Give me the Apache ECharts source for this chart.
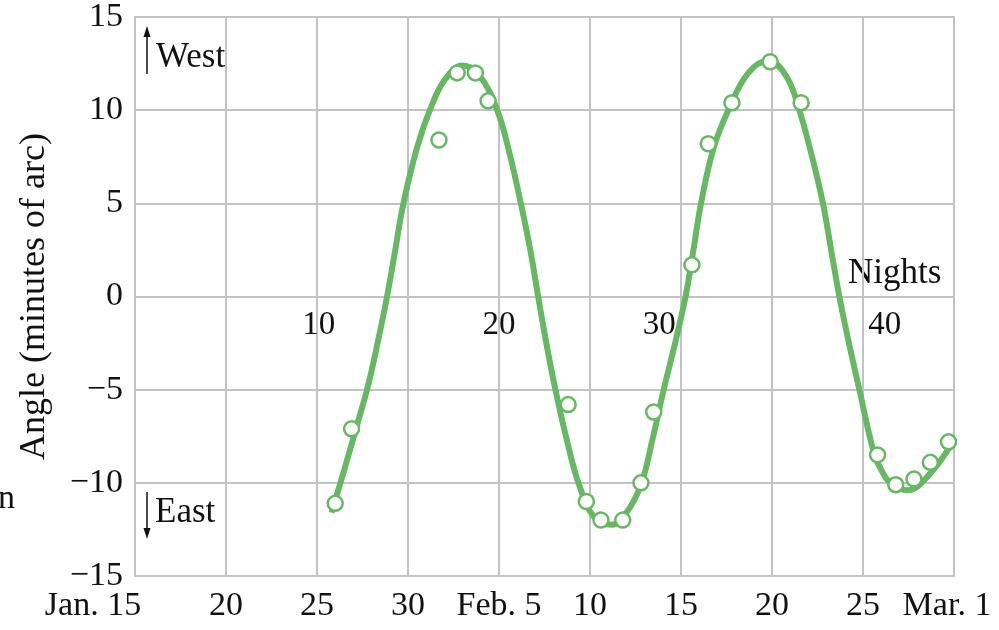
<!DOCTYPE html>
<html>
<head>
<meta charset="utf-8">
<script src="https://cdn.jsdelivr.net/npm/echarts@6/dist/echarts.min.js"></script>
<style>
  html, body { margin: 0; padding: 0; background: #fff; }
  #main { width: 999px; height: 630px; }
</style>
</head>
<body>
<div id="main"></div>
<script>
// days since Jan. 15 on the x axis
var dateLabels = ['Jan. 15', '20', '25', '30', 'Feb. 5', '10', '15', '20', '25', 'Mar. 1']

// observed angles (minutes of arc)
var obsDays = [11.0, 11.9, 16.7, 17.7, 18.7, 19.4, 23.8, 24.8, 25.6, 26.8, 27.8,
  28.5, 30.6, 31.5, 32.8, 34.9, 36.6, 40.8, 41.8, 42.8, 43.7, 44.7]
var obsAngles = [-11.1, -7.1, 8.4, 12.0, 12.0, 10.5, -5.8, -11.0, -12.0, -12.0, -10.0,
  -6.2, 1.7, 8.2, 10.4, 12.6, 10.4, -8.5, -10.1, -9.8, -8.9, -7.8]

// fitted curve
var fitDays = [10.8, 11.5, 12.2, 12.8, 13.35, 13.85, 14.3, 14.75, 15.5, 16.2, 17.0, 18.0,
  18.9, 19.9, 20.6, 21.2, 21.7, 22.15, 22.6, 23.1, 23.8, 24.4, 25.2, 26.2,
  27.0, 27.8, 28.45, 29.05, 29.7, 30.25, 30.7, 31.1, 31.8, 32.6, 33.7, 34.8,
  35.8, 36.5, 37.2, 37.8, 38.25, 38.7, 39.25, 39.8, 40.6, 41.0, 41.5, 42.45, 43.6, 44.95]
var fitAngles = [-11.6, -9.3, -6.9, -4.8, -2.4, 0, 2.5, 5.0, 8.0, 10.0, 11.6, 12.4,
  11.9, 10.0, 7.6, 5.0, 2.6, 0, -2.5, -5.0, -8.0, -10.1, -11.8, -12.25,
  -11.6, -10.1, -7.6, -5.0, -2.4, 0, 2.6, 5.0, 8.0, 10.0, 12.0, 12.65,
  11.8, 10.0, 7.5, 5.0, 2.5, 0, -2.6, -5.0, -8.4, -9.3, -10.0, -10.4, -9.6, -7.8]

// night count labels along the zero line
var nightTicks = ['10', '20', '30', '40']
var nightDays = [10.1, 20.0, 28.8, 41.2]

var green = '#66b862'
var gridGray = '#c3c2c7'
var serif = 'Liberation Serif'

var chart = echarts.init(document.getElementById('main'))

var option = {
  backgroundColor: '#fff',
  animation: false,
  textStyle: { fontFamily: serif },
  grid: {
    left: 135, right: 45, top: 15, bottom: 54,
    show: true, borderColor: gridGray, borderWidth: 2
  },
  xAxis: {
    type: 'value',
    min: 0, max: 45, interval: 5,
    axisLine: { show: false },
    axisTick: { show: false },
    splitLine: { lineStyle: { color: gridGray, width: 2 } },
    axisLabel: {
      margin: 13,
      color: '#111',
      fontFamily: serif,
      fontSize: 34,
      formatter: function (v) {
        var i = Math.round(v / 5)
        if (i === 0) return '{first|' + dateLabels[i] + '}'
        if (i === dateLabels.length - 1) return '{last|' + dateLabels[i] + '}'
        return dateLabels[i]
      },
      rich: {
        first: { fontFamily: serif, fontSize: 34, color: '#111', padding: [0, 84, 0, 0] },
        last: { fontFamily: serif, fontSize: 34, color: '#111', padding: [0, 14, 0, 0] }
      }
    }
  },
  yAxis: {
    type: 'value',
    min: -15, max: 15, interval: 5,
    name: 'Angle (minutes of arc)',
    nameLocation: 'middle',
    nameGap: 82,
    nameTextStyle: { fontFamily: serif, fontSize: 36, color: '#111' },
    axisLine: { show: false },
    axisTick: { show: false },
    splitLine: { lineStyle: { color: gridGray, width: 2 } },
    axisLabel: {
      margin: 12,
      color: '#111',
      fontFamily: serif,
      fontSize: 34,
      formatter: function (v) { return String(v).replace('-', '\u2212') }
    }
  },
  series: [
    {
      name: 'fit',
      type: 'line',
      smooth: 0.4,
      showSymbol: false,
      z: 2,
      lineStyle: { color: green, width: 6 },
      data: fitDays.map(function (d, i) { return [d, fitAngles[i]] })
    },
    {
      name: 'observed',
      type: 'scatter',
      symbol: 'circle',
      symbolSize: 15,
      z: 3,
      itemStyle: { color: '#fff', borderColor: green, borderWidth: 2.5, opacity: 1 },
      data: obsDays.map(function (d, i) { return [d, obsAngles[i]] })
    },
    {
      name: 'nights',
      type: 'scatter',
      symbolSize: 0,
      silent: true,
      z: 4,
      itemStyle: { opacity: 1 },
      label: {
        show: true,
        position: 'bottom',
        distance: 12,
        fontFamily: serif,
        fontSize: 33,
        color: '#111',
        formatter: function (p) { return nightTicks[p.dataIndex] }
      },
      data: nightDays.map(function (d) { return [d, 0] })
    }
  ],
  graphic: [
    { type: 'text', left: 848, top: 256, style: { text: 'Nights', font: '35px "Liberation Serif"', fill: '#111' } },
    { type: 'text', left: 156, top: 40, style: { text: 'West', font: '35px "Liberation Serif"', fill: '#111' } },
    { type: 'text', left: 155, top: 495, style: { text: 'East', font: '35px "Liberation Serif"', fill: '#111' } },
    { type: 'line', shape: { x1: 147, y1: 74, x2: 147, y2: 34 }, style: { stroke: '#111', lineWidth: 1.5 } },
    { type: 'polygon', shape: { points: [[147, 26], [143.5, 37], [150.5, 37]] }, style: { fill: '#111' } },
    { type: 'line', shape: { x1: 147, y1: 492, x2: 147, y2: 530 }, style: { stroke: '#111', lineWidth: 1.5 } },
    { type: 'polygon', shape: { points: [[147, 539], [143.5, 528], [150.5, 528]] }, style: { fill: '#111' } },
    { type: 'text', left: -2, top: 482, style: { text: 'n', font: '34px "Liberation Serif"', fill: '#111' } }
  ]
}

chart.setOption(option)
</script>
</body>
</html>
